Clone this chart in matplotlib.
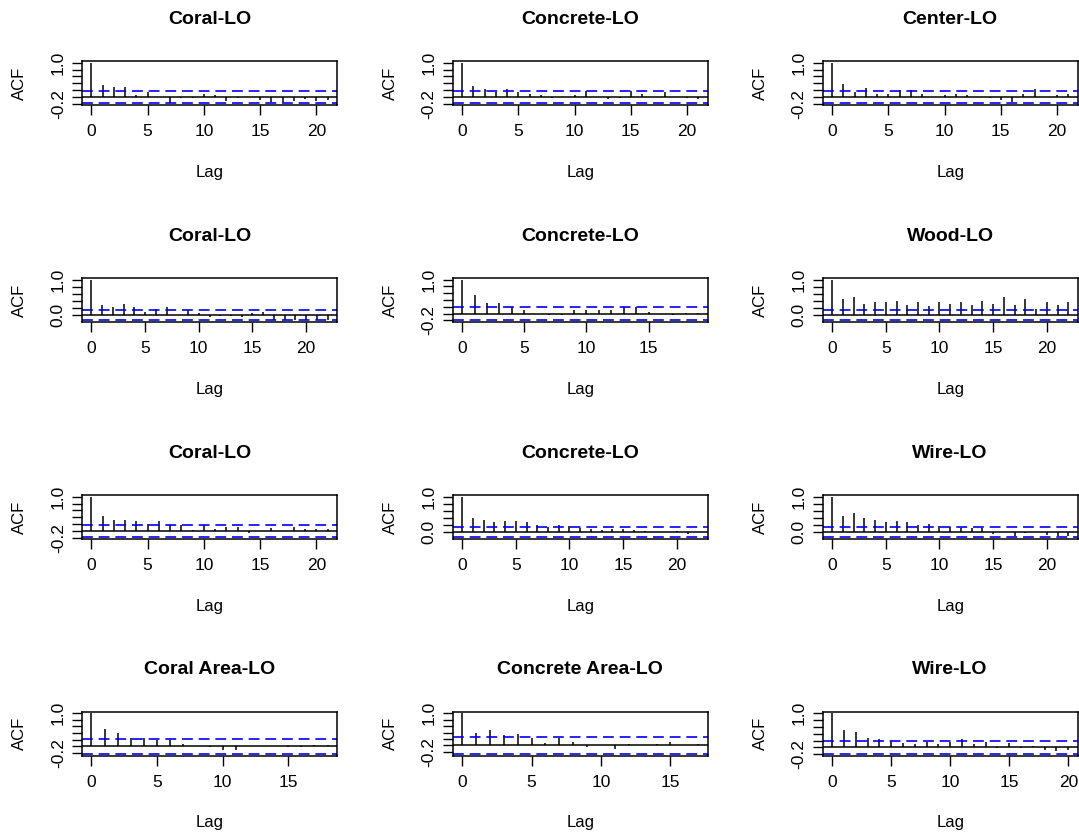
import numpy as np
import matplotlib.pyplot as plt

plt.rcParams["font.family"] = ["Liberation Sans", "DejaVu Sans"]

# ============================================================
# ACF values (lag 0 first), one list per panel.
# ============================================================

titles = [
    "Coral-LO", "Concrete-LO", "Center-LO",
    "Coral-LO", "Concrete-LO", "Wood-LO",
    "Coral-LO", "Concrete-LO", "Wire-LO",
    "Coral Area-LO", "Concrete Area-LO", "Wire-LO",
]

clims = [0.185, 0.185, 0.185, 0.143, 0.20, 0.143,
         0.18, 0.14, 0.14, 0.23, 0.26, 0.19]

acf_coral_1 = [1.0, 0.355, 0.28, 0.28, 0.06, 0.14, 0.0, -0.16, -0.03, -0.03, 0.09,
               0.05, -0.12, -0.03, 0.0, -0.1, -0.14, -0.15, -0.12, -0.05, -0.13, -0.1]
acf_concrete_1 = [1.0, 0.31, 0.23, 0.14, 0.23, 0.14, 0.09, 0.05, -0.03, 0.0, 0.05,
                  0.17, 0.0, -0.06, -0.04, 0.17, 0.09, 0.0, 0.14, 0.0, -0.03, -0.05]
acf_center = [1.0, 0.39, 0.14, 0.27, 0.10, 0.10, 0.19, 0.19, 0.10, 0.0, 0.05,
              0.10, 0.05, 0.0, -0.02, -0.08, -0.14, 0.10, 0.23, 0.0, 0.05, 0.10]
acf_coral_2 = [1.0, 0.29, 0.24, 0.33, 0.24, 0.10, 0.19, 0.24, 0.0, 0.14, 0.07, -0.05,
               -0.02, -0.03, -0.04, 0.05, 0.10, -0.12, -0.12, -0.12, -0.12, -0.13, -0.13]
acf_concrete_2 = [1.0, 0.56, 0.32, 0.32, 0.19, 0.11, 0.0, -0.05, -0.05, 0.11,
                  0.11, 0.11, 0.11, 0.19, 0.19, 0.05, -0.02, -0.03, 0.02, 0.03]
acf_wood = [1.0, 0.46, 0.51, 0.33, 0.36, 0.36, 0.41, 0.29, 0.36, 0.25, 0.36, 0.33,
            0.36, 0.29, 0.41, 0.33, 0.51, 0.29, 0.46, 0.19, 0.36, 0.29, 0.36]
acf_coral_3 = [1.0, 0.43, 0.32, 0.32, 0.28, 0.21, 0.28, 0.18, 0.18, 0.02, 0.18,
               0.07, 0.11, 0.11, -0.05, 0.0, 0.10, 0.0, 0.11, 0.07, 0.07, 0.07]
acf_concrete_3 = [1.0, 0.41, 0.35, 0.28, 0.31, 0.31, 0.28, 0.22, 0.14, 0.22, 0.18, 0.11,
                  0.10, 0.07, 0.10, 0.10, 0.07, 0.05, 0.02, 0.02, 0.05, -0.05, 0.0]
acf_wire_1 = [1.0, 0.45, 0.54, 0.41, 0.35, 0.28, 0.31, 0.28, 0.20, 0.23, 0.18, 0.14,
              0.13, 0.11, 0.11, -0.04, 0.0, -0.10, -0.02, 0.0, -0.08, -0.10, -0.10]
acf_coral_area = [1.0, 0.53, 0.40, 0.25, 0.25, 0.18, 0.18, 0.08, 0.0, -0.03,
                  -0.10, -0.10, 0.0, 0.0, 0.0, -0.02, -0.03, 0.05, 0.05]
acf_concrete_area = [1.0, 0.39, 0.48, 0.31, 0.35, 0.23, 0.08, 0.23, 0.11, -0.05,
                     0.02, -0.10, 0.05, 0.0, 0.05, 0.10, 0.0, 0.05]
acf_wire_2 = [1.0, 0.50, 0.45, 0.28, 0.23, 0.19, 0.14, 0.10, 0.16, 0.10, 0.16,
              0.23, 0.11, 0.16, -0.03, 0.14, -0.03, 0.05, -0.08, -0.10, -0.08]

acfs = [acf_coral_1, acf_concrete_1, acf_center,
        acf_coral_2, acf_concrete_2, acf_wood,
        acf_coral_3, acf_concrete_3, acf_wire_1,
        acf_coral_area, acf_concrete_area, acf_wire_2]


# ============================================================
# Panel layout (pixel boxes, like R's squashed par(mfrow=c(4,3))).
# ============================================================

W, H = 1079, 835
col_left = [82, 452.7, 822.7]
row_top = [61, 278, 495, 711.5]
box_w, box_h = 255, 44

fig = plt.figure(figsize=(W / 100, H / 100), dpi=100)

for i, (title, acf, clim) in enumerate(zip(titles, acfs, clims)):
    r, c = divmod(i, 3)
    left = col_left[c]
    top = row_top[r]
    ax = fig.add_axes([left / W, 1 - (top + box_h) / H, box_w / W, box_h / H])

    lags = np.arange(len(acf))
    lag_max = lags[-1]

    ax.vlines(lags, 0, acf, color="black", lw=1.1)
    ax.axhline(0, color="black", lw=1.1)
    ax.axhline(clim, color="blue", lw=1.2, ls=(0, (6.5, 3.5)))
    ax.axhline(-clim, color="blue", lw=1.2, ls=(0, (6.5, 3.5)))

    # R-style 4% padding
    ax.set_xlim(-0.04 * lag_max, 1.04 * lag_max)
    ymin = min(-clim, min(acf))
    pad = 0.04 * (1 - ymin)
    ax.set_ylim(ymin - pad, 1 + pad)

    xticks = [t for t in range(0, 25, 5) if t <= 1.04 * lag_max]
    ax.set_xticks(xticks)
    ax.set_xticklabels([str(t) for t in xticks], fontsize=12.5)

    yticks = [t for t in np.round(np.arange(-0.2, 1.01, 0.2), 1) if t >= ymin - pad]
    ylabels = [f"{t:.1f}" if (t == yticks[0] or t == yticks[-1]) else "" for t in yticks]
    ax.set_yticks(yticks)
    ax.set_yticklabels(ylabels, fontsize=12.5, rotation=90, va="center")

    ax.tick_params(axis="both", length=7.2, width=1.0, colors="black")
    ax.tick_params(axis="x", pad=6.5)
    ax.tick_params(axis="y", pad=4.5)

    for spine in ax.spines.values():
        spine.set_linewidth(1.1)

    ax.annotate(title, xy=(0.5, 1), xycoords="axes fraction",
                xytext=(0, 30), textcoords="offset points",
                ha="center", va="center", fontsize=14, fontweight="bold")
    ax.annotate("Lag", xy=(0.5, 0), xycoords="axes fraction",
                xytext=(0, -48.5), textcoords="offset points",
                ha="center", va="center", fontsize=12)
    ax.annotate("ACF", xy=(0, 0.5), xycoords="axes fraction",
                xytext=(-45, 0), textcoords="offset points",
                ha="center", va="center", fontsize=12, rotation=90)

fig.savefig("out.png", dpi=100)
